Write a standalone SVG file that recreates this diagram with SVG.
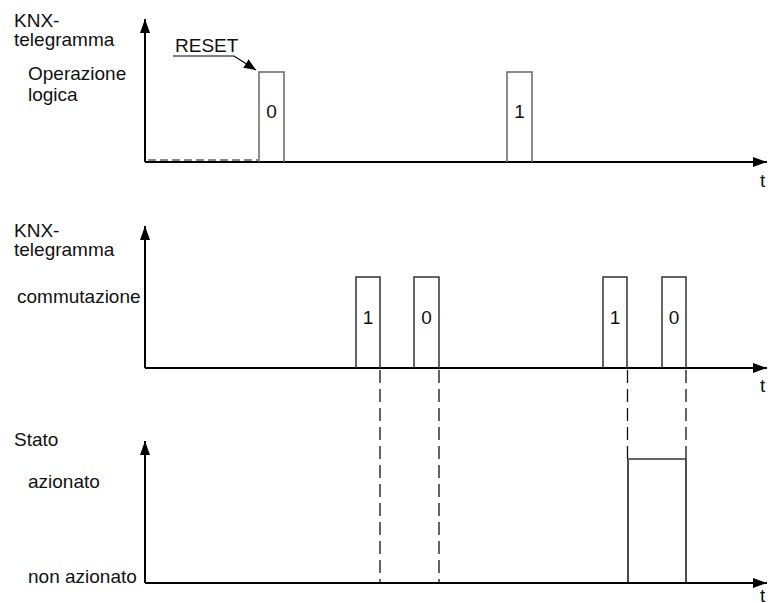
<svg xmlns="http://www.w3.org/2000/svg" width="768" height="603" viewBox="0 0 768 603">
<style>
text{font-family:"Liberation Sans",Arial,sans-serif;font-size:19px;fill:#111}
.ax{stroke:#000;stroke-width:2;fill:none}
.pu{stroke:#333;stroke-width:1.5;fill:none}
.pg{stroke:#666;stroke-width:1.5;fill:none}
.da{stroke:#111;stroke-width:1.3;stroke-dasharray:13 6;fill:none}
.mid{text-anchor:middle}
</style>
<defs>
<marker id="ah" markerWidth="14" markerHeight="10" refX="14" refY="5" orient="auto" markerUnits="userSpaceOnUse"><path d="M0,0 L14,5 L0,10 Z" fill="#000"/></marker>
<marker id="rs" markerWidth="12" markerHeight="10" refX="12" refY="5" orient="auto" markerUnits="userSpaceOnUse"><path d="M0,0 L12,5 L0,10 Z" fill="#000"/></marker>
</defs>
<g id="panel1">
<text x="14" y="27">KNX-</text>
<text x="14" y="46">telegramma</text>
<text x="28" y="80">Operazione</text>
<text x="28" y="101">logica</text>
<path class="ax" d="M145,162 V19" marker-end="url(#ah)"/>
<path class="ax" d="M145,162 H767" marker-end="url(#ah)"/>
<text x="760" y="187">t</text>
<path d="M148,160 H258" stroke="#666" stroke-width="1.5" stroke-dasharray="8 4" fill="none"/>
<g id="p1a"><path class="pg" d="M259,162 V72 H284 V162"/><text class="mid" x="271.5" y="118">0</text></g>
<g id="p1b"><path class="pg" d="M507,162 V72 H532 V162"/><text class="mid" x="519.5" y="118">1</text></g>
<g id="reset"><text x="175" y="52">RESET</text><path d="M173,56 H234 L256,70" stroke="#000" stroke-width="1.2" fill="none" marker-end="url(#rs)"/></g>
</g>
<g id="panel2">
<text x="14" y="237">KNX-</text>
<text x="14" y="256">telegramma</text>
<text x="17" y="303">commutazione</text>
<path class="ax" d="M145,368 V226" marker-end="url(#ah)"/>
<path class="ax" d="M145,368 H767" marker-end="url(#ah)"/>
<text x="760" y="392">t</text>
<g id="p2a"><path class="pu" d="M356,368 V277 H380 V368"/><text class="mid" x="368" y="324">1</text></g>
<g id="p2b"><path class="pu" d="M414,368 V277 H439 V368"/><text class="mid" x="426.5" y="324">0</text></g>
<g id="p2c"><path class="pu" d="M603,368 V277 H627 V368"/><text class="mid" x="615" y="324">1</text></g>
<g id="p2d"><path class="pu" d="M662,368 V277 H686 V368"/><text class="mid" x="674" y="324">0</text></g>
</g>
<g id="panel3">
<text x="14" y="446">Stato</text>
<text x="28" y="488">azionato</text>
<text x="28" y="583">non azionato</text>
<path class="ax" d="M145,583 V441" marker-end="url(#ah)"/>
<path class="ax" d="M145,583 H767" marker-end="url(#ah)"/>
<text x="760" y="602">t</text>
<g id="state"><path d="M628,583 V459" stroke="#111" stroke-width="1.5"/><path d="M686,583 V459" stroke="#111" stroke-width="1.5"/><path d="M628,459 H686" stroke="#666" stroke-width="2"/></g>
</g>
<g id="connectors">
<path class="da" d="M380,370 V583"/>
<path class="da" d="M439,370 V583"/>
<path class="da" d="M627.5,370 V459"/>
<path class="da" d="M686,370 V459"/>
</g>
</svg>
